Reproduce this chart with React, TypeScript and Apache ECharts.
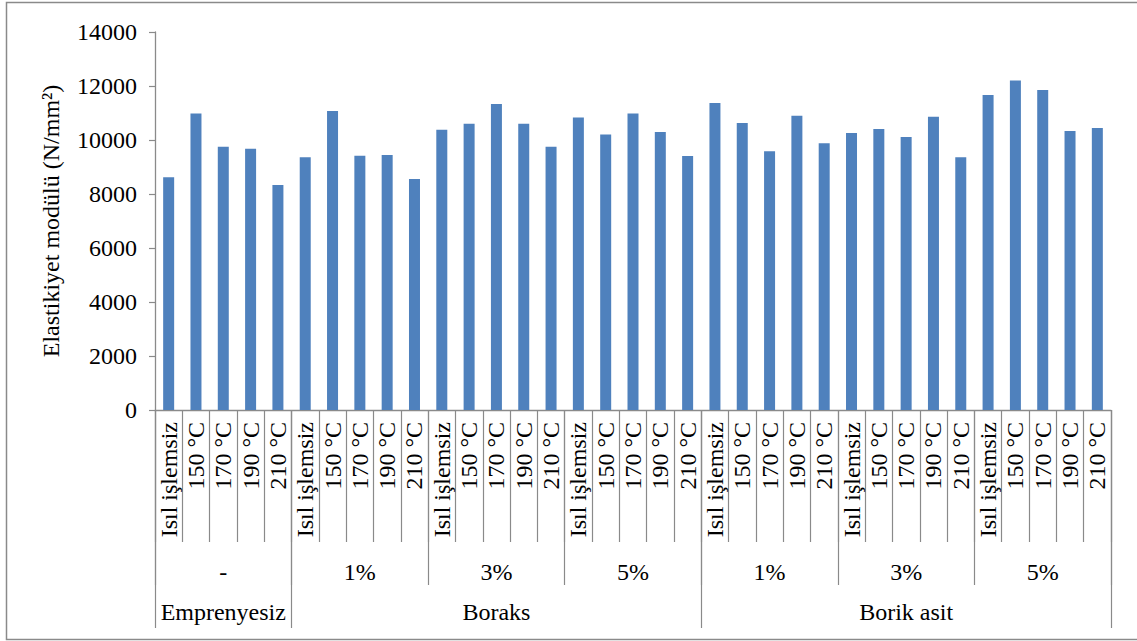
import React, { useEffect, useRef } from "react";
import * as echarts from "echarts";

// Heat-treatment levels (innermost axis level)
const treatments = ["Isıl işlemsiz", "150 °C", "170 °C", "190 °C", "210 °C"];
// Concentration groups (middle axis level)
const concentrations = ["-", "1%", "3%", "5%", "1%", "3%", "5%"];
// Impregnation chemicals (outer axis level) and how many concentration groups each covers
const impregnants = ["Emprenyesiz", "Boraks", "Borik asit"];
const impregnantSpans = [1, 3, 3];

// Modulus of elasticity (N/mm²) per concentration group, in treatment order
const emprenyesiz = [8620, 10980, 9750, 9680, 8330];
const boraks1 = [9360, 11070, 9420, 9440, 8560];
const boraks3 = [10380, 10600, 11330, 10600, 9750];
const boraks5 = [10830, 10200, 10980, 10300, 9410];
const borik1 = [11370, 10630, 9580, 10900, 9880];
const borik3 = [10260, 10410, 10110, 10860, 9360];
const borik5 = [11670, 12200, 11850, 10330, 10440];

const yTicks = [0, 2000, 4000, 6000, 8000, 10000, 12000, 14000];

const FONT = "'Liberation Serif', 'Times New Roman', serif";
const GRAY = "#8a8a8a";

export default function App() {
  const ref = useRef<HTMLDivElement>(null);

  useEffect(() => {
    document.body.style.margin = "0";
    if (!ref.current) return;
    const chart = echarts.init(ref.current, undefined, { renderer: "svg" });

    const groups = [emprenyesiz, boraks1, boraks3, boraks5, borik1, borik3, borik5];
    const values = groups.flat();
    const innerLabels = groups.flatMap(() => treatments);

    // Outer level: label at centre group of each span, ticks at span starts
    const outerLabels: string[] = new Array(concentrations.length).fill("");
    const outerTickStarts: number[] = [];
    let start = 0;
    impregnants.forEach((name, i) => {
      outerTickStarts.push(start);
      outerLabels[start + Math.floor(impregnantSpans[i] / 2)] = name;
      start += impregnantSpans[i];
    });

    const textBase = { fontFamily: FONT, fontSize: 24, color: "#000" };

    chart.setOption({
      animation: false,
      backgroundColor: "#fff",
      textStyle: { fontFamily: FONT },
      grid: { left: 155, right: 26, top: 32, bottom: 231, containLabel: false, outerBoundsMode: "none" },
      xAxis: [
        {
          type: "category",
          data: innerLabels,
          position: "bottom",
          axisLine: { show: true, lineStyle: { color: GRAY, width: 1.3 } },
          axisTick: { show: true, interval: 0, length: 132, lineStyle: { color: GRAY, width: 1.2 } },
          axisLabel: { ...textBase, interval: 0, rotate: 90, margin: 12 },
        },
        {
          type: "category",
          data: concentrations.map((_, i) => String(i)),
          position: "bottom",
          axisLine: { show: false },
          axisTick: { show: true, interval: 0, length: 175, lineStyle: { color: GRAY, width: 1.2 } },
          axisLabel: { ...textBase, interval: 0, margin: 150, formatter: (_v: string, i: number) => concentrations[i] },
        },
        {
          type: "category",
          data: concentrations.map((_, i) => "g" + i),
          position: "bottom",
          axisLine: { show: false },
          axisTick: {
            show: true,
            interval: (i: number) => outerTickStarts.includes(i),
            length: 218,
            lineStyle: { color: GRAY, width: 1.2 },
          },
          axisLabel: { ...textBase, interval: 0, margin: 190, formatter: (_v: string, i: number) => outerLabels[i] },
        },
      ],
      yAxis: {
        type: "value",
        min: yTicks[0],
        max: yTicks[yTicks.length - 1],
        interval: yTicks[1] - yTicks[0],
        name: "Elastikiyet modülü (N/mm²)",
        nameLocation: "middle",
        nameRotate: 90,
        nameGap: 92,
        nameTextStyle: { ...textBase },
        axisLine: { show: true, lineStyle: { color: GRAY, width: 1.3 } },
        axisTick: { show: true, length: 6, lineStyle: { color: GRAY, width: 1.2 } },
        axisLabel: { ...textBase, margin: 18, formatter: (v: number) => String(v) },
        splitLine: { show: false },
      },
      series: [
        {
          type: "bar",
          xAxisIndex: 0,
          data: values,
          barWidth: 11,
          itemStyle: { color: "#4F81BD" },
        },
      ],
      graphic: [
        {
          type: "rect",
          shape: { x: 6.5, y: 2.5, width: 1150, height: 637 },
          style: { fill: "none", stroke: GRAY, lineWidth: 1.5 },
          silent: true,
        },
      ],
    });

    return () => chart.dispose();
  }, []);

  return <div ref={ref} style={{ width: 1137, height: 641 }} />;
}
